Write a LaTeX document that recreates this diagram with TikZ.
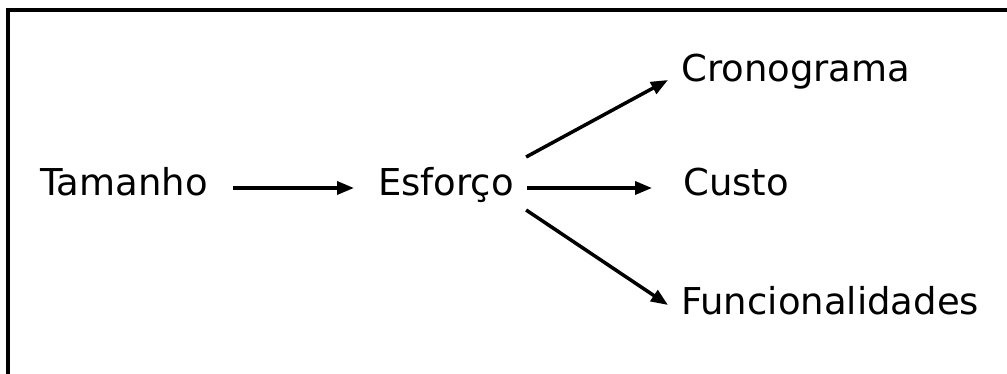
\documentclass[tikz,border=0pt]{standalone}
\usepackage{fontspec}
\setmainfont{DejaVu Sans}
\usetikzlibrary{arrows.meta}
\begin{document}
\begin{tikzpicture}[x=1pt,y=1pt,
  lbl/.style={anchor=base west,inner sep=0pt,text height=20pt,text depth=4pt,font=\fontsize{37}{40}\selectfont},
  conn/.style={line width=3.5pt,-{Triangle[length=17pt,width=13pt]}}]
\useasboundingbox (0,0) rectangle (1007,374);
\draw[line width=4pt] (7.5,0) -- (7.5,364) -- (1007,364);
\node[lbl] (ta) at (40,178) {Tamanho};
\node[lbl] (es) at (378,178) {Esforço};
\node[lbl] (cr) at (681,292) {Cronograma};
\node[lbl] (cu) at (683,178) {Custo};
\node[lbl] (fu) at (681,59) {Funcionalidades};
\draw[conn] ([xshift=25pt]ta.east) -- ([xshift=-24pt]es.west);
\draw[conn] ([xshift=13pt]es.east) -- ([xshift=-31pt]cu.west);
\draw[conn] ([shift={(12pt,31pt)}]es.east) -- ([shift={(-13pt,-6pt)}]cr.west);
\draw[conn] ([shift={(12pt,-22pt)}]es.east) -- ([shift={(-13pt,2pt)}]fu.west);
\end{tikzpicture}
\end{document}
